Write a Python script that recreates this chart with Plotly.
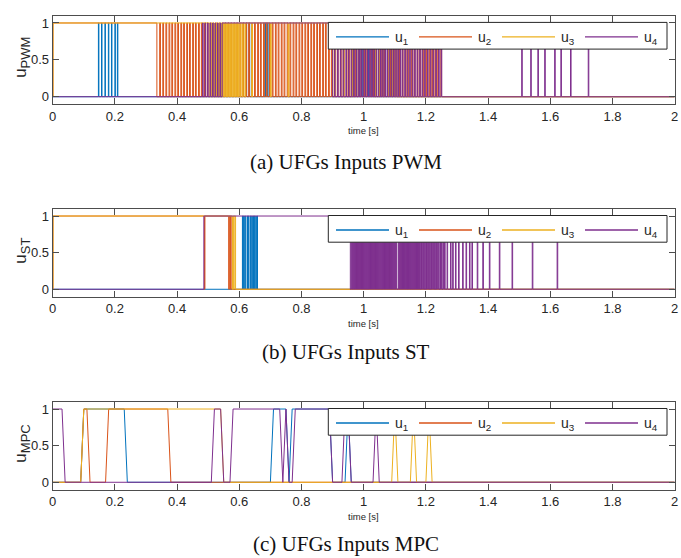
import plotly.graph_objects as go

# ---------------- data ----------------
time_ticks = [0, 0.2, 0.4, 0.6, 0.8, 1.0, 1.2, 1.4, 1.6, 1.8, 2.0]
time_tick_labels = ["0", "0.2", "0.4", "0.6", "0.8", "1", "1.2", "1.4", "1.6", "1.8", "2"]
u_ticks = [0, 0.5, 1]
u_tick_labels = ["0", "0.5", "1"]
series_names = ["u<sub>1</sub>", "u<sub>2</sub>", "u<sub>3</sub>", "u<sub>4</sub>"]
T_END = 2.0

# (a) PWM : initial value, baseline switching times, short pulse start times, pulse width
pwm_u1_init = 0
pwm_u1_switch = []
pwm_u1_pulses = [0.147, 0.157, 0.168, 0.179, 0.189, 0.200, 0.208,
                 0.612, 0.622, 0.632, 0.683, 0.691,
                 0.966, 0.976, 0.986, 0.994, 1.004, 1.014, 1.026]
pwm_u1_width = 0.0015

pwm_u2_init = 0
pwm_u2_switch = [0.001, 0.335]
pwm_u2_pulses = [0.344, 0.354, 0.364, 0.374, 0.383, 0.393, 0.402, 0.412, 0.421, 0.431,
                 0.440, 0.450, 0.459, 0.469, 0.478, 0.488, 0.497, 0.507, 0.516, 0.526,
                 0.535, 0.545, 0.554, 0.564, 0.573, 0.583, 0.592, 0.602, 0.611, 0.621,
                 0.630, 0.640, 0.649, 0.659, 0.668, 0.678, 0.687, 0.697, 0.706, 0.716,
                 0.725, 0.735, 0.744, 0.754, 0.763, 0.773, 0.782, 0.792, 0.801, 0.811,
                 0.820, 0.830, 0.839, 0.849, 0.858, 0.868, 0.877, 0.887, 0.896, 0.906,
                 0.915, 0.925, 0.934, 0.944, 0.953, 0.963, 0.972, 0.982, 0.991, 1.001,
                 1.010, 1.020, 1.029, 1.039, 1.048, 1.058, 1.067, 1.077, 1.086, 1.096,
                 1.105, 1.115, 1.124, 1.134, 1.143, 1.153, 1.162, 1.172, 1.181, 1.191,
                 1.200, 1.210, 1.219, 1.229, 1.238, 1.248]
pwm_u2_width = 0.0025

pwm_u3_init = 0
pwm_u3_switch = [0.001, 1.106]
pwm_u3_pulses = [0.505, 0.512, 0.519, 0.526, 0.533, 0.540, 0.546, 0.552, 0.557, 0.562,
                 0.567, 0.572, 0.577, 0.582, 0.587, 0.592, 0.597, 0.603, 0.610, 0.618,
                 0.640, 0.700, 0.757, 0.905, 0.935, 0.962, 1.038, 1.048, 1.062, 1.078,
                 1.090, 1.101]
pwm_u3_width = 0.0025

pwm_u4_init = 0
pwm_u4_switch = [0.545, 0.900]
pwm_u4_pulses = [0.482, 0.490, 0.498, 0.506, 0.514, 0.522, 0.530, 0.538,
                 0.906, 0.916, 0.925, 0.934, 0.943, 0.951, 0.960, 0.968, 0.976, 0.984,
                 0.991, 0.998, 1.005, 1.012, 1.019, 1.026, 1.033, 1.040, 1.047, 1.054,
                 1.061, 1.068, 1.075, 1.082, 1.089, 1.096, 1.103, 1.110, 1.117, 1.124,
                 1.132, 1.140, 1.148, 1.156, 1.164, 1.172, 1.180, 1.188, 1.196, 1.205,
                 1.214, 1.223, 1.232, 1.241, 1.249,
                 1.508, 1.537, 1.560, 1.582, 1.614, 1.634, 1.665, 1.722]
pwm_u4_width = 0.0018

# (b) ST
st_u1_init = 0
st_u1_switch = []
st_u1_pulses = [0.610, 0.614, 0.618, 0.625, 0.629, 0.635, 0.640, 0.644, 0.648, 0.653, 0.657]
st_u1_width = 0.0015

st_u2_init = 0
st_u2_switch = [0.001, 0.574]
st_u2_pulses = [0.488, 0.566, 0.570]
st_u2_width = 0.0015

st_u3_init = 0
st_u3_switch = [0.001, 0.588]
st_u3_pulses = [0.578, 0.582]
st_u3_width = 0.0015

st_u4_init = 0
st_u4_switch = [0.486, 0.957]
st_u4_pulses = [0.960, 0.963, 0.966, 0.969, 0.972, 0.975, 0.978, 0.981, 0.984, 0.987,
                0.990, 0.993, 0.996, 0.999, 1.002, 1.005, 1.008, 1.011, 1.014, 1.017,
                1.020, 1.023, 1.026, 1.029, 1.032, 1.035, 1.038, 1.041, 1.044, 1.047,
                1.050, 1.053, 1.056, 1.059, 1.062, 1.065, 1.068, 1.071, 1.074, 1.077,
                1.080, 1.083, 1.086, 1.089, 1.092, 1.095, 1.098, 1.101, 1.104, 1.111,
                1.114, 1.117, 1.120, 1.123, 1.126, 1.129, 1.132, 1.135, 1.138, 1.141,
                1.144, 1.147, 1.150, 1.153, 1.156, 1.159, 1.162, 1.165, 1.168, 1.171,
                1.174, 1.177, 1.180, 1.184, 1.188, 1.192, 1.196, 1.200, 1.204, 1.208,
                1.212, 1.216, 1.220, 1.224, 1.228, 1.232, 1.236, 1.240, 1.245, 1.250,
                1.255, 1.260,
                1.268, 1.279, 1.286, 1.295, 1.305, 1.318, 1.329, 1.340, 1.348, 1.365,
                1.383, 1.404, 1.436, 1.477, 1.542, 1.622]
st_u4_width = 0.0019

# (c) MPC : sampled inputs (linear between samples)
mpc_u1_t = [0, 0.09, 0.10, 0.23, 0.24, 0.70, 0.71, 0.75, 0.76, 0.77, 0.89, 0.90, 0.94, 0.95, 0.96, 2.0]
mpc_u1_v = [0, 0, 1, 1, 0, 0, 1, 1, 0, 1, 1, 0, 0, 1, 0, 0]
mpc_u2_t = [0, 0.09, 0.10, 0.11, 0.12, 0.17, 0.18, 0.37, 0.38, 2.0]
mpc_u2_v = [0, 0, 1, 1, 0, 0, 1, 1, 0, 0]
mpc_u3_t = [0, 0.09, 0.10, 0.54, 0.55, 1.09, 1.10, 1.11, 1.15, 1.16, 1.17, 1.20, 1.21, 1.22, 2.0]
mpc_u3_v = [0, 0, 1, 1, 0, 0, 1, 0, 0, 1, 0, 0, 1, 0, 0]
mpc_u4_t = [0, 0.03, 0.04, 0.51, 0.52, 0.54, 0.55, 0.57, 0.58, 0.73, 0.74, 0.75, 0.76, 0.77,
            0.78, 0.89, 0.90, 0.93, 0.94, 0.95, 0.96, 1.03, 1.04, 1.05, 2.0]
mpc_u4_v = [1, 1, 0, 0, 1, 1, 0, 0, 1, 1, 0, 1, 0, 0, 1, 1, 0, 0, 1, 1, 0, 0, 1, 0, 0]

captions = ["(a) UFGs Inputs PWM", "(b) UFGs Inputs ST", "(c) UFGs Inputs MPC"]
ylabel_base = "u"
ylabel_subs = ["PWM", "ST", "MPC"]
xlabel = "time [s]"

# ---------------- style ----------------
W, H = 681, 558
colors = ["#0072BD", "#D95319", "#EDB120", "#7E2F8E"]
AX = "#4d4d4d"
TXT = "#262626"
X0, X1 = 52.7, 674.7
panels = [(15.6, 104.1), (208.7, 296.6), (401.7, 489.6)]
caption_y = [162, 352, 544]


def fx(p):
    return p / W


def fy(p):
    return 1 - p / H


def pulse_signal(init, switches, pulses, width, t_end=T_END):
    events = sorted(list(switches) + list(pulses) + [p + width for p in pulses])
    xs, ys, v = [0.0], [init], init
    for t in events:
        xs += [t, t]
        ys += [v, 1 - v]
        v = 1 - v
    xs.append(t_end)
    ys.append(v)
    return xs, ys


fig = go.Figure()

pwm = [(pwm_u1_init, pwm_u1_switch, pwm_u1_pulses, pwm_u1_width),
       (pwm_u2_init, pwm_u2_switch, pwm_u2_pulses, pwm_u2_width),
       (pwm_u3_init, pwm_u3_switch, pwm_u3_pulses, pwm_u3_width),
       (pwm_u4_init, pwm_u4_switch, pwm_u4_pulses, pwm_u4_width)]
st = [(st_u1_init, st_u1_switch, st_u1_pulses, st_u1_width),
      (st_u2_init, st_u2_switch, st_u2_pulses, st_u2_width),
      (st_u3_init, st_u3_switch, st_u3_pulses, st_u3_width),
      (st_u4_init, st_u4_switch, st_u4_pulses, st_u4_width)]
mpc = [(mpc_u1_t, mpc_u1_v), (mpc_u2_t, mpc_u2_v), (mpc_u3_t, mpc_u3_v), (mpc_u4_t, mpc_u4_v)]

for k, args in enumerate(pwm):
    xs, ys = pulse_signal(*args)
    fig.add_trace(go.Scatter(x=xs, y=ys, mode="lines", name=series_names[k],
                             line=dict(color=colors[k], width=1), xaxis="x", yaxis="y",
                             showlegend=False))
for k, args in enumerate(st):
    xs, ys = pulse_signal(*args)
    fig.add_trace(go.Scatter(x=xs, y=ys, mode="lines", name=series_names[k],
                             line=dict(color=colors[k], width=1), xaxis="x2", yaxis="y2",
                             showlegend=False))
for k, (ts, vs) in enumerate(mpc):
    fig.add_trace(go.Scatter(x=ts, y=vs, mode="lines", name=series_names[k],
                             line=dict(color=colors[k], width=1), xaxis="x3", yaxis="y3",
                             showlegend=False))

layout = dict(width=W, height=H, margin=dict(l=0, r=0, t=0, b=0, autoexpand=False),
              paper_bgcolor="white", plot_bgcolor="white",
              font=dict(family="Liberation Sans, Arial, sans-serif", color=TXT, size=13))

shapes = []
annotations = []
for i, (top, bot) in enumerate(panels):
    sfx = "" if i == 0 else str(i + 1)
    layout["xaxis" + sfx] = dict(domain=[fx(X0), fx(X1)], range=[0, 2], anchor="y" + sfx,
                                 tickvals=time_ticks, ticktext=time_tick_labels,
                                 ticks="inside", ticklen=6, tickcolor=AX, tickwidth=1,
                                 showline=True, linecolor=AX, linewidth=1, mirror="ticks",
                                 showgrid=False, zeroline=False, fixedrange=True,
                                 automargin=False, ticklabelstandoff=0,
                                 tickfont=dict(size=13, color=TXT))
    layout["yaxis" + sfx] = dict(domain=[fy(bot), fy(top)], range=[-0.1, 1.1], anchor="x" + sfx,
                                 tickvals=u_ticks, ticktext=u_tick_labels,
                                 ticks="inside", ticklen=6, tickcolor=AX, tickwidth=1,
                                 showline=True, linecolor=AX, linewidth=1, mirror="ticks",
                                 showgrid=False, zeroline=False, fixedrange=True,
                                 automargin=False,
                                 tickfont=dict(size=13, color=TXT))
    # y label
    ytext = ylabel_base + '<sub><span style="font-size:13px">' + ylabel_subs[i] + "</span></sub>"
    annotations.append(dict(text=ytext, x=fx(22), y=fy((top + bot) / 2 - 2),
                            xref="paper", yref="paper", showarrow=False, textangle=-90,
                            xanchor="center", yanchor="middle",
                            font=dict(size=17, color=TXT)))
    # x label
    annotations.append(dict(text=xlabel, x=fx((X0 + X1) / 2), y=fy(bot + 26.5),
                            xref="paper", yref="paper", showarrow=False,
                            xanchor="center", yanchor="middle",
                            font=dict(size=9.5, color=TXT)))
    # caption
    annotations.append(dict(text=captions[i], x=fx(346), y=fy(caption_y[i]),
                            xref="paper", yref="paper", showarrow=False,
                            xanchor="center", yanchor="middle",
                            font=dict(family="Liberation Serif, Times New Roman, serif",
                                      size=21, color="#111111")))
    # legend box
    ltop = top + 6.8
    lbot = ltop + 26.7
    shapes.append(dict(type="rect", xref="paper", yref="paper",
                       x0=fx(328.3), x1=fx(667), y0=fy(lbot), y1=fy(ltop),
                       line=dict(color="#262626", width=1), fillcolor="white", layer="above"))
    ly = ltop + 14.5
    for k in range(4):
        lx = 336 + 83 * k
        shapes.append(dict(type="line", xref="paper", yref="paper",
                           x0=fx(lx), x1=fx(lx + 53), y0=fy(ly), y1=fy(ly),
                           line=dict(color=colors[k], width=1.3), layer="above"))
        annotations.append(dict(text=series_names[k], x=fx(lx + 57), y=fy(ly + 1),
                                xref="paper", yref="paper", showarrow=False,
                                xanchor="left", yanchor="middle",
                                font=dict(size=14, color=TXT)))

layout["shapes"] = shapes
layout["annotations"] = annotations
fig.update_layout(**layout)
fig.write_html("out.html", config={"displayModeBar": False},
               post_script="document.body.style.margin='0px';document.body.style.overflow='hidden';")
